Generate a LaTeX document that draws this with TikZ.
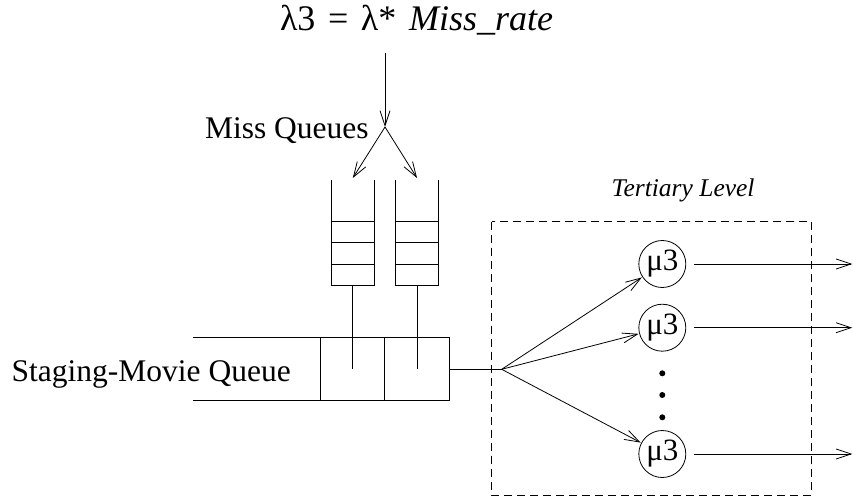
\documentclass[tikz,border=0pt]{standalone}
\usepackage{fontspec}
\setmainfont{Liberation Serif}
\usetikzlibrary{arrows.meta}
\begin{document}
\begin{tikzpicture}[x=1pt, y=-1pt, line width=0.8pt,
  every node/.style={inner sep=0pt, outer sep=0pt},
  barb/.style={-{Straight Barb[length=15pt,width=10pt,line width=0.8pt]}},
  bigtext/.style={font=\fontsize{31.5}{36}\selectfont, anchor=base west},
  eqtext/.style={font=\fontsize{36}{40}\selectfont, anchor=base west},
  smalltext/.style={font=\fontsize{25.5}{29}\selectfont\itshape, anchor=base west},
  server/.style={circle, draw, minimum size=47pt, font=\fontsize{31}{34}\selectfont},
  dot/.style={circle, fill, minimum size=6pt},
  region/.style={draw, dash pattern=on 8pt off 5pt}]
\useasboundingbox (0,0) rectangle (853,498);

% labels
\node[eqtext] (rate) at (280,30.7)
  {λ3\hspace{0.35em}=\hspace{0.35em}λ*\hspace{0.35em}\textit{Miss\_rate}};
\node[bigtext] (missq) at (205,138) {Miss Queues};
\node[bigtext] (stage) at (11.7,381) {Staging-Movie Queue};
\node[smalltext] (tert) at (611.7,196.7) {Tertiary Level};

% arrival stream and its split
\coordinate (src) at (385,53);
\coordinate (split) at (385,127);
\coordinate (qatop) at (352.8,178);
\coordinate (qbtop) at (417,178);
\draw[barb] (src) -- (split);
\draw[barb] (split) -- (qatop);
\draw[barb] (split) -- (qbtop);

% miss queues
\foreach \xl/\xr in {331.7/374, 395.7/438.3}{
  \draw (\xl,180) -- (\xl,285) -- (\xr,285) -- (\xr,180);
  \foreach \yy in {221.7,242.7,264}{
    \draw (\xl,\yy) -- (\xr,\yy);
  }
}
\coordinate (qabottom) at (352.8,285);
\coordinate (qadrop) at (352.8,369);
\coordinate (qbbottom) at (417,285);
\coordinate (qbdrop) at (417,369);
\draw (qabottom) -- (qadrop);
\draw (qbbottom) -- (qbdrop);

% staging-movie queue
\draw (193,337.7) -- (449,337.7) -- (449,400) -- (193,400);
\draw (320.7,337.7) -- (320.7,400);
\draw (384.7,337.7) -- (384.7,400);
\coordinate (stageout) at (449,369.3);
\coordinate (fan) at (501.7,369.3);
\draw (stageout) -- (fan);

% tertiary level
\draw[region] (491.7,221.7) rectangle (811.7,495);
\node[server] (s1) at (662.3,264) {μ3};
\node[server] (s2) at (662.3,327.7) {μ3};
\node[server] (s3) at (662.3,454) {μ3};
\node[dot] (d1) at (662.3,373.3) {};
\node[dot] (d2) at (662.3,395) {};
\node[dot] (d3) at (662.3,417.3) {};

\draw[barb, shorten >=1pt] (fan) -- (s1);
\draw[barb, shorten >=1pt] (fan) -- (s2);
\draw[barb, shorten >=1pt] (fan) -- (s3);

\coordinate (o1) at (852.3,264);
\coordinate (o2) at (852.3,327.7);
\coordinate (o3) at (852.3,454);
\draw[barb, shorten <=8pt] (s1) -- (o1);
\draw[barb, shorten <=8pt] (s2) -- (o2);
\draw[barb, shorten <=8pt] (s3) -- (o3);
\end{tikzpicture}
\end{document}
